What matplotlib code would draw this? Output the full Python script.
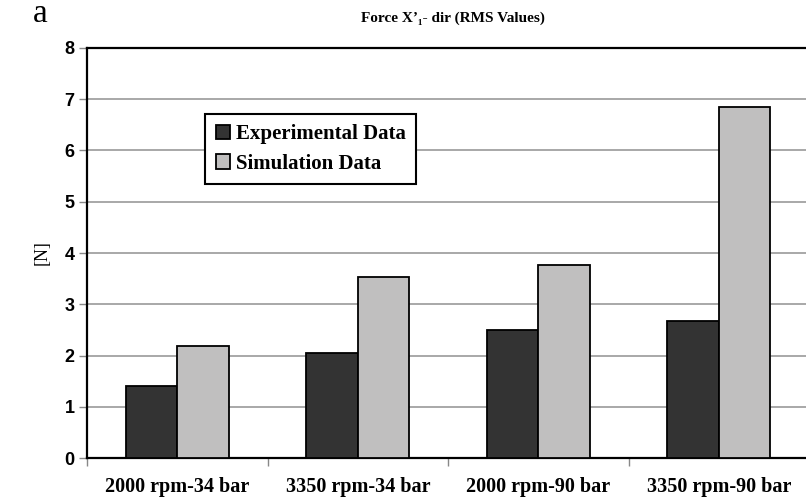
import matplotlib.pyplot as plt
import numpy as np

plt.switch_backend('Agg')

categories = ['2000 rpm-34 bar', '3350 rpm-34 bar', '2000 rpm-90 bar', '3350 rpm-90 bar']
experimental = [1.41, 2.05, 2.49, 2.68]
simulation = [2.18, 3.53, 3.76, 6.84]
yticks = [0, 1, 2, 3, 4, 5, 6, 7, 8]

serif = ['Liberation Serif', 'DejaVu Serif']
sans = ['Liberation Sans', 'DejaVu Sans']

fig = plt.figure(figsize=(8.06, 4.98), dpi=100)
ax = fig.add_axes([87 / 806, 40 / 498, 722 / 806, 410 / 498])

x = np.arange(len(categories))
w = 0.286
ax.bar(x - w / 2, experimental, w, color='#333333', edgecolor='black',
       linewidth=1.3, label='Experimental Data', zorder=3)
ax.bar(x + w / 2, simulation, w, color='#c0bfbf', edgecolor='black',
       linewidth=1.3, label='Simulation Data', zorder=3)

ax.set_xlim(-0.5, 3.5)
ax.set_ylim(0, 8)
ax.set_yticks(yticks)
ax.set_yticklabels([str(t) for t in yticks], fontfamily=sans,
                   fontweight='bold', fontsize=13)
ax.yaxis.grid(True, color='#999999', linewidth=1.2, zorder=0)

# подписи категорий по центру, короткие засечки на границах
ax.set_xticks(x)
ax.set_xticklabels(categories, fontfamily=serif, fontweight='bold', fontsize=14.5)
ax.set_xticks(np.arange(-0.5, 4.0, 1.0), minor=True)
ax.tick_params(axis='x', which='major', length=0, pad=14)
ax.tick_params(axis='x', which='minor', length=6, width=1, color='#888888')
ax.tick_params(axis='y', length=6, width=1, color='#888888', pad=3)

for s in ax.spines.values():
    s.set_linewidth(1.6)
    s.set_color('black')

ax.set_ylabel('[N]', fontfamily=serif, fontsize=13, labelpad=10)

fig.text(453 / 806, 1 - 18 / 498, 'Force X\u2019\u2081- dir (RMS Values)',
         fontfamily=serif, fontweight='bold', fontsize=11,
         ha='center', va='center')
fig.text(40 / 806, 1 - 14 / 498, 'a', fontfamily=serif, fontsize=24,
         ha='center', va='center')

leg = ax.legend(loc='upper left', bbox_to_anchor=(0.164, 0.839),
                borderaxespad=0, fancybox=False, frameon=True,
                prop={'family': serif, 'weight': 'bold', 'size': 15},
                handlelength=0.7, handleheight=0.7, handletextpad=0.25,
                labelspacing=0.45, borderpad=0.5)
leg.get_frame().set_edgecolor('black')
leg.get_frame().set_linewidth(1.5)
leg.get_frame().set_alpha(1)

fig.savefig('out.png', dpi=100)
